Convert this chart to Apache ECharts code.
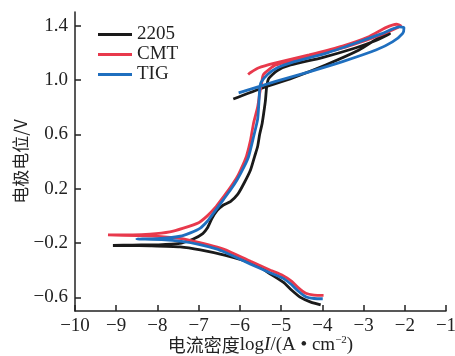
<!DOCTYPE html>
<html>
<head>
<meta charset="utf-8">
<script src="https://cdn.jsdelivr.net/npm/echarts@6/dist/echarts.min.js"></script>
<style>html,body{margin:0;padding:0;background:#fff;}#c{width:455px;height:356px;}</style>
</head>
<body>
<div id="c"></div>
<script>
// Series names
var seriesNames = ['2205', 'CMT', 'TIG'];
// Y tick labels
var yTicks = [-0.6, -0.2, 0.2, 0.6, 1.0, 1.4];

// 2205: cathodic end -> Ecorr -> anodic -> turning point -> return
var data2205 = [
  [-4.04,-0.655],[-4.28,-0.635],[-4.53,-0.60],[-4.77,-0.54],[-4.94,-0.49],[-5.25,-0.43],[-5.55,-0.37],[-5.95,-0.325],[-6.35,-0.29],[-6.96,-0.25],[-7.45,-0.228],[-8.18,-0.22],[-8.7,-0.218],[-9.08,-0.218],
  [-8.6,-0.215],[-8.0,-0.213],[-7.5,-0.205],[-7.13,-0.17],[-6.9,-0.13],[-6.79,-0.09],[-6.68,-0.02],[-6.55,0.04],[-6.40,0.08],[-6.23,0.105],[-6.05,0.16],[-5.90,0.24],[-5.74,0.34],[-5.64,0.44],[-5.57,0.51],[-5.52,0.60],[-5.46,0.68],[-5.42,0.76],[-5.38,0.85],[-5.35,0.95],[-5.30,1.01],[-5.09,1.07],[-4.77,1.11],[-4.0,1.165],[-3.2,1.235],[-2.7,1.29],[-2.4,1.335],[-2.35,1.345],
  [-2.63,1.31],[-3.11,1.22],[-3.92,1.11],[-4.72,1.015],[-5.55,0.93],[-6.16,0.86]
];
// CMT
var dataCMT = [
  [-3.97,-0.585],[-4.2,-0.583],[-4.4,-0.57],[-4.58,-0.53],[-4.75,-0.48],[-4.95,-0.44],[-5.26,-0.40],[-5.74,-0.335],[-6.35,-0.25],[-6.55,-0.23],[-7.0,-0.195],[-7.37,-0.17],[-7.9,-0.152],[-8.5,-0.145],[-9.2,-0.14],
  [-8.6,-0.14],[-8.18,-0.135],[-7.7,-0.118],[-7.37,-0.09],[-7.0,-0.05],[-6.79,0.0],[-6.60,0.06],[-6.40,0.14],[-6.23,0.21],[-6.06,0.29],[-5.92,0.38],[-5.84,0.44],[-5.74,0.56],[-5.67,0.68],[-5.57,0.80],[-5.52,0.90],[-5.47,0.98],[-5.43,1.04],[-5.13,1.11],[-4.32,1.17],[-3.51,1.235],[-3.15,1.27],[-2.6,1.33],[-2.18,1.385],[-2.10,1.40],
  [-2.2,1.41],[-2.46,1.385],[-2.86,1.32],[-3.51,1.25],[-4.32,1.185],[-5.13,1.125],[-5.54,1.09],[-5.74,1.055],[-5.80,1.04]
];
// TIG
var dataTIG = [
  [-3.99,-0.61],[-4.2,-0.608],[-4.4,-0.595],[-4.58,-0.555],[-4.75,-0.505],[-4.95,-0.46],[-5.26,-0.42],[-5.74,-0.355],[-6.35,-0.27],[-6.55,-0.245],[-7.0,-0.21],[-7.37,-0.19],[-7.9,-0.175],[-8.5,-0.17],
  [-8.0,-0.168],[-7.45,-0.15],[-7.2,-0.125],[-6.96,-0.09],[-6.79,-0.04],[-6.64,0.02],[-6.40,0.12],[-6.23,0.19],[-6.06,0.27],[-5.90,0.36],[-5.79,0.435],[-5.67,0.58],[-5.57,0.71],[-5.54,0.83],[-5.52,0.93],[-5.49,0.98],[-5.33,1.04],[-5.09,1.09],[-4.73,1.13],[-3.92,1.195],[-3.11,1.28],[-2.54,1.343],[-2.13,1.39],[-2.02,1.385],
  [-2.05,1.343],[-2.3,1.28],[-2.70,1.22],[-3.51,1.135],[-4.32,1.06],[-5.13,0.99],[-6.03,0.905]
];

var colors = ['#1a1a1a', '#e8394c', '#1f6fbf'];
var serif = '"Liberation Serif","Times New Roman",serif';
var cjk = '"Noto Sans CJK SC",sans-serif';
function minus(v){ return String(v).replace('-', '\u2212'); }

var chart = echarts.init(document.getElementById('c'), null, {renderer: 'canvas'});
chart.setOption({
  animation: false,
  color: colors,
  grid: {left: 75, right: 9, top: 12, bottom: 45, containLabel: false, outerBoundsMode: 'none'},
  legend: {
    data: seriesNames, orient: 'vertical', left: 93, top: 20,
    icon: 'rect', itemWidth: 34, itemHeight: 3, itemGap: 1,
    textStyle: {fontFamily: serif, fontSize: 19, color: '#222', lineHeight: 19}
  },
  xAxis: {
    type: 'value', min: -10, max: -1, interval: 1,
    axisLine: {show: true, onZero: false, lineStyle: {color: '#222', width: 1.5}},
    axisTick: {show: true, inside: true, length: 6, lineStyle: {color: '#222', width: 1.5}},
    axisLabel: {margin: 6, fontFamily: serif, fontSize: 19, color: '#222', formatter: minus},
    splitLine: {show: false},
    name: '{c|电流密度}{t|log}{i|I}{t|/(A • cm}{s|\u22122}{t|)}',
    nameLocation: 'middle', nameGap: 24, nameMoveOverlap: false,
    nameTextStyle: {
      rich: {
        c: {fontFamily: cjk, fontSize: 18, color: '#222'},
        t: {fontFamily: serif, fontSize: 19, color: '#222'},
        i: {fontFamily: serif, fontSize: 19, fontStyle: 'italic', color: '#222'},
        s: {fontFamily: serif, fontSize: 11, color: '#222', padding: [0, 0, 9, 0]}
      }
    }
  },
  yAxis: {
    type: 'value', min: -0.7, max: 1.5,
    axisLine: {show: true, onZero: false, lineStyle: {color: '#222', width: 1.5}},
    axisTick: {show: true, inside: true, length: 6, customValues: yTicks, lineStyle: {color: '#222', width: 1.5}},
    axisLabel: {margin: 7, fontFamily: serif, fontSize: 19, color: '#222', customValues: yTicks,
      formatter: function(v){ return minus(v.toFixed(1)); }},
    splitLine: {show: false},
    name: '电极电位/V', nameLocation: 'middle', nameGap: 46, nameMoveOverlap: false,
    nameTextStyle: {fontFamily: cjk, fontSize: 17, color: '#222'}
  },
  series: [
    {name: seriesNames[0], type: 'line', data: data2205, showSymbol: false, smooth: 0.2, lineStyle: {width: 2.8}, z: 2},
    {name: seriesNames[1], type: 'line', data: dataCMT, showSymbol: false, smooth: 0.2, lineStyle: {width: 2.8}, z: 3},
    {name: seriesNames[2], type: 'line', data: dataTIG, showSymbol: false, smooth: 0.2, lineStyle: {width: 2.8}, z: 4}
  ]
});
</script>
</body>
</html>
